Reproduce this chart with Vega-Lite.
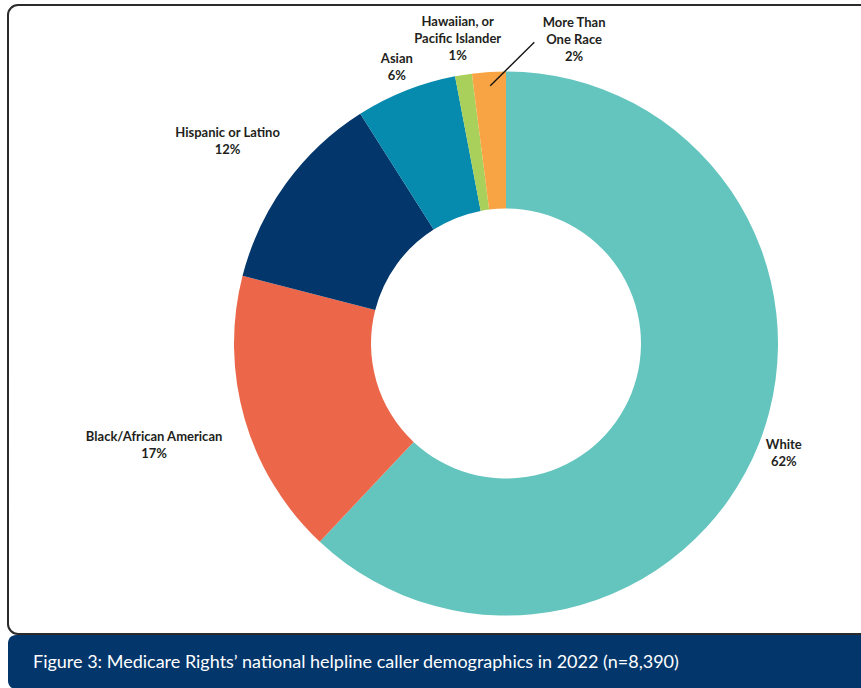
{
  "$schema": "https://vega.github.io/schema/vega-lite/v6.json",
  "padding": {"left": 7, "top": 4, "right": 0, "bottom": 0},
  "background": "white",
  "spacing": 0,
  "config": {"view": {"stroke": null}, "font": "Lato"},
  "vconcat": [
    {
      "width": 996,
      "height": 629,
      "view": {"stroke": "#2b2b2b", "strokeWidth": 2, "cornerRadius": 10, "fill": "white"},
      "data": {
        "values": [
          {"race": "White", "label": "White", "pct": 62, "order": 1},
          {"race": "Black/African American", "label": "Black/African American", "pct": 17, "order": 2},
          {"race": "Hispanic or Latino", "label": "Hispanic or Latino", "pct": 12, "order": 3},
          {"race": "Asian", "label": "Asian", "pct": 6, "order": 4},
          {"race": "Hawaiian, or Pacific Islander", "label": "Hawaiian, or\nPacific Islander", "pct": 1, "order": 5},
          {"race": "More Than One Race", "label": "More Than\nOne Race", "pct": 2, "order": 6}
        ]
      },
      "transform": [{"calculate": "datum.label + '\\n' + datum.pct + '%'", "as": "text"}],
      "layer": [
        {
          "mark": {"type": "arc", "innerRadius": 135, "outerRadius": 272, "yOffset": 24},
          "encoding": {
            "theta": {"field": "pct", "type": "quantitative", "stack": true},
            "order": {"field": "order", "type": "ordinal"},
            "color": {
              "field": "race",
              "type": "nominal",
              "legend": null,
              "scale": {
                "domain": ["White", "Black/African American", "Hispanic or Latino", "Asian", "Hawaiian, or Pacific Islander", "More Than One Race"],
                "range": ["#64c4be", "#ec674a", "#03366b", "#068aad", "#a8d05a", "#f9a444"]
              }
            }
          }
        },
        {
          "mark": {
            "type": "text",
            "font": "Lato",
            "fontWeight": "bold",
            "fontSize": 13,
            "color": "#231f20",
            "lineBreak": "\n",
            "lineHeight": 17,
            "align": "center",
            "baseline": "middle",
            "yOffset": 24,
            "radius": {"expr": "273 + 4.2*max(length(split(datum.label,'\\n')[0]), length(split(datum.label,'\\n')[1] || '')) * abs(sin(PI*(datum.pct_start+datum.pct_end)/100)) + 8.5*length(split(datum.text,'\\n'))*abs(cos(PI*(datum.pct_start+datum.pct_end)/100))"},
            "dx": {"expr": "datum.race === 'More Than One Race' ? 87 : 0"},
            "dy": {"expr": "-8.5*(length(split(datum.text,'\\n'))-1) + (datum.race === 'More Than One Race' ? -3 : 0)"}
          },
          "encoding": {
            "theta": {"field": "pct", "type": "quantitative", "stack": true},
            "order": {"field": "order", "type": "ordinal"},
            "text": {"field": "text", "type": "nominal"}
          }
        },
        {
          "transform": [{"filter": "datum.race === 'More Than One Race'"}],
          "mark": {"type": "point", "shape": "M-15.7,-257.7L28.3,-301.3", "size": 4, "filled": false, "stroke": "#111111", "strokeWidth": 1.3, "opacity": 1, "yOffset": 24}
        }
      ]
    },
    {
      "width": 996,
      "height": 54,
      "view": {"fill": "#03366b", "stroke": null, "cornerRadius": 8},
      "data": {"values": [{"caption": "Figure 3: Medicare Rights’ national helpline caller demographics in 2022 (n=8,390)"}]},
      "mark": {"type": "text", "align": "left", "baseline": "middle", "color": "white", "font": "Lato", "fontSize": 18, "dx": 25, "dy": 1},
      "encoding": {
        "text": {"field": "caption", "type": "nominal"},
        "x": {"field": "caption", "type": "nominal", "axis": null, "scale": {"type": "point", "padding": 0, "align": 0}}
      }
    }
  ]
}
